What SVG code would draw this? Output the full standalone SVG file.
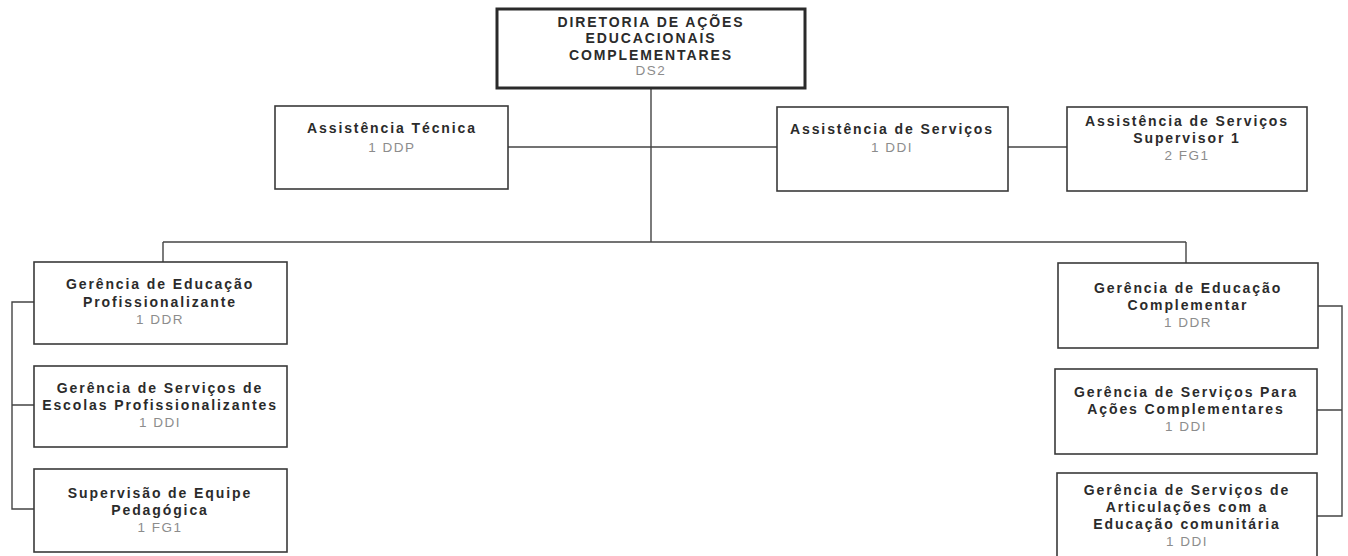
<svg xmlns="http://www.w3.org/2000/svg" width="1348" height="556" viewBox="0 0 1348 556">
<style>
.box{fill:#fff;stroke:#3a3a3a;stroke-width:1.6}
.top{fill:#fff;stroke:#2a2a2a;stroke-width:3}
.t{font-family:"Liberation Sans",Arial,sans-serif;font-size:14px;font-weight:bold;fill:#2b2b2b;text-anchor:middle;letter-spacing:1.9px}
.c{font-family:"Liberation Sans",Arial,sans-serif;font-size:13.5px;fill:#8c8c8c;text-anchor:middle;letter-spacing:1.5px}
.ln{fill:none;stroke:#444;stroke-width:1.4}
</style>
<rect width="1348" height="556" fill="#fff"/>
<g id="connectors">
<path class="ln" d="M651 88V242"/>
<path class="ln" d="M508 147H777"/>
<path class="ln" d="M1008 147H1067"/>
<path class="ln" d="M163 242H1186"/>
<path class="ln" d="M163 242V262"/>
<path class="ln" d="M1186 242V263"/>
<path class="ln" d="M34 302H12V509H34M12 405H34"/>
<path class="ln" d="M1318 306H1342V516H1317M1342 410H1317"/>
</g>
<g id="n-diretoria">
<rect class="top" x="497" y="9" width="308" height="79"/>
<text class="t" x="651" y="27">DIRETORIA DE AÇÕES</text>
<text class="t" x="651" y="43">EDUCACIONAIS</text>
<text class="t" x="651" y="60">COMPLEMENTARES</text>
<text class="c" x="651" y="75">DS2</text>
</g>
<g id="n-assist-tecnica">
<rect class="box" x="275" y="106" width="233" height="83"/>
<text class="t" x="392" y="133">Assistência Técnica</text>
<text class="c" x="392" y="152">1 DDP</text>
</g>
<g id="n-assist-servicos">
<rect class="box" x="777" y="107" width="231" height="84"/>
<text class="t" x="892" y="134">Assistência de Serviços</text>
<text class="c" x="892" y="152">1 DDI</text>
</g>
<g id="n-assist-supervisor">
<rect class="box" x="1067" y="107" width="240" height="84"/>
<text class="t" x="1187" y="126">Assistência de Serviços</text>
<text class="t" x="1187" y="143">Supervisor 1</text>
<text class="c" x="1187" y="160">2 FG1</text>
</g>
<g id="n-ger-profissionalizante">
<rect class="box" x="34" y="262" width="253" height="82"/>
<text class="t" x="160" y="289">Gerência de Educação</text>
<text class="t" x="160" y="307">Profissionalizante</text>
<text class="c" x="160" y="324">1 DDR</text>
</g>
<g id="n-ger-escolas">
<rect class="box" x="34" y="366" width="253" height="81"/>
<text class="t" x="160" y="393">Gerência de Serviços de</text>
<text class="t" x="160" y="410">Escolas Profissionalizantes</text>
<text class="c" x="160" y="427">1 DDI</text>
</g>
<g id="n-supervisao">
<rect class="box" x="34" y="469" width="253" height="83"/>
<text class="t" x="160" y="498">Supervisão de Equipe</text>
<text class="t" x="160" y="515">Pedagógica</text>
<text class="c" x="160" y="532">1 FG1</text>
</g>
<g id="n-ger-complementar">
<rect class="box" x="1058" y="263" width="260" height="85"/>
<text class="t" x="1188" y="293">Gerência de Educação</text>
<text class="t" x="1188" y="310">Complementar</text>
<text class="c" x="1188" y="327">1 DDR</text>
</g>
<g id="n-ger-acoes">
<rect class="box" x="1055" y="369" width="262" height="85"/>
<text class="t" x="1186" y="397">Gerência de Serviços Para</text>
<text class="t" x="1186" y="414">Ações Complementares</text>
<text class="c" x="1186" y="431">1 DDI</text>
</g>
<g id="n-ger-articulacoes">
<rect class="box" x="1057" y="473" width="260" height="90"/>
<text class="t" x="1187" y="495">Gerência de Serviços de</text>
<text class="t" x="1187" y="512">Articulações com a</text>
<text class="t" x="1187" y="529">Educação comunitária</text>
<text class="c" x="1187" y="546">1 DDI</text>
</g>
</svg>
